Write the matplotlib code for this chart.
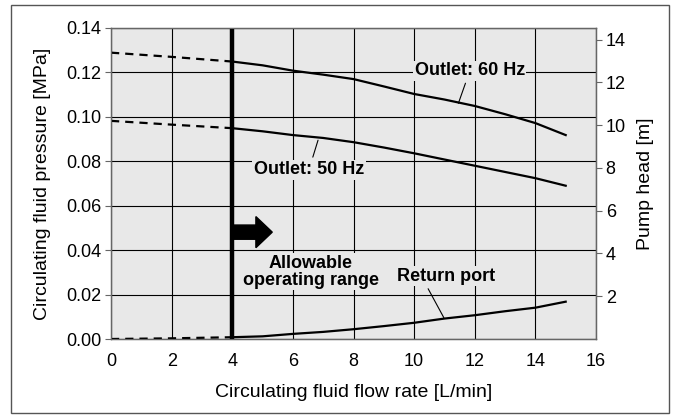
import matplotlib
matplotlib.use("Agg")
import matplotlib.pyplot as plt
from matplotlib.patches import Rectangle, FancyArrow

plt.rcParams['font.family'] = ['Liberation Sans', 'DejaVu Sans']

# Data (flow rate L/min, pressure MPa)
x_dash = [0, 2, 4]
p60_dash = [0.1289, 0.1270, 0.1249]
p50_dash = [0.0982, 0.0965, 0.0949]
ret_dash = [0.0000, 0.0003, 0.0008]

x_solid = [4, 5, 6, 7, 8, 9, 10, 11, 12, 13, 14, 15]
p60 = [0.1249, 0.1232, 0.1208, 0.1190, 0.1170, 0.1137, 0.1103, 0.1078, 0.1049, 0.1012, 0.0972, 0.0918]
p50 = [0.0949, 0.0935, 0.0918, 0.0905, 0.0886, 0.0862, 0.0836, 0.0808, 0.0780, 0.0752, 0.0724, 0.0690]
ret = [0.0008, 0.0012, 0.0023, 0.0032, 0.0044, 0.0058, 0.0073, 0.0092, 0.0107, 0.0125, 0.0141, 0.0168]

xticks = [0, 2, 4, 6, 8, 10, 12, 14, 16]
yticks = [0.00, 0.02, 0.04, 0.06, 0.08, 0.10, 0.12, 0.14]
head_ticks = [2, 4, 6, 8, 10, 12, 14]

fig = plt.figure(figsize=(6.77, 4.15), dpi=100)
fig.patches.append(Rectangle((11/677, 2/415), 658/677, 408/415, transform=fig.transFigure,
                             fill=False, edgecolor='#555555', lw=1.0))
ax = fig.add_axes([111/677, 1 - 339/415, 485/677, 311/415])
ax.set_facecolor('#e8e8e8')
ax.set_xlim(0, 16)
ax.set_ylim(0, 0.14)
ax.set_xticks(xticks)
ax.set_yticks(yticks)
ax.set_yticklabels([f"{v:.2f}" for v in yticks])
ax.grid(True, color='black', lw=0.8)
ax.set_axisbelow(True)
for s in ax.spines.values():
    s.set_color('#666666')
    s.set_linewidth(1.0)
ax.tick_params(axis='y', labelsize=13, direction='out', length=4, color='#666666', pad=3)
ax.tick_params(axis='x', labelsize=13, length=0, pad=10)
ax.set_xlabel('Circulating fluid flow rate [L/min]', fontsize=14, labelpad=10.5)
ax.set_ylabel('Circulating fluid pressure [MPa]', fontsize=14, labelpad=11)

ax2 = ax.twinx()
ax2.set_ylim(0, 0.14 / 0.00963)
ax2.set_yticks(head_ticks)
ax2.tick_params(labelsize=13, direction='out', length=4, color='#666666', pad=3)
ax2.set_ylabel('Pump head [m]', fontsize=14, labelpad=8)
for s in ax2.spines.values():
    s.set_color('#666666')

lw = 1.6
for yd, ys in [(p60_dash, p60), (p50_dash, p50), (ret_dash, ret)]:
    ax.plot(x_dash, yd, color='black', lw=lw, ls=(0, (3.7, 2.7)), zorder=3)
    ax.plot(x_solid, ys, color='black', lw=lw, zorder=3)

ax.axvline(4, color='black', lw=3.2, zorder=4)
ax.add_patch(FancyArrow(4, 0.0481, 1.32, 0, width=0.0064, head_width=0.0140,
                        head_length=0.54, length_includes_head=True,
                        color='black', zorder=5))

bbox = dict(facecolor='#e8e8e8', edgecolor='none', pad=1.0)
ax.text(6.59, 0.0302, 'Allowable\noperating range', ha='center', va='center',
        fontsize=13, fontweight='bold', linespacing=1.0, bbox=bbox, zorder=5)

ax.annotate('Outlet: 60 Hz', xy=(11.46, 0.1061), xytext=(11.84, 0.1208),
            ha='center', va='center', fontsize=13, fontweight='bold', bbox=bbox,
            arrowprops=dict(arrowstyle='-', color='black', lw=0.8, shrinkA=2, shrinkB=0), zorder=5)
ax.annotate('Outlet: 50 Hz', xy=(6.83, 0.0895), xytext=(6.53, 0.0762),
            ha='center', va='center', fontsize=13, fontweight='bold', bbox=bbox,
            arrowprops=dict(arrowstyle='-', color='black', lw=0.8, shrinkA=2, shrinkB=0), zorder=5)
ax.annotate('Return port', xy=(10.98, 0.0096), xytext=(11.04, 0.0282),
            ha='center', va='center', fontsize=13, fontweight='bold', bbox=bbox,
            arrowprops=dict(arrowstyle='-', color='black', lw=0.8, shrinkA=2, shrinkB=0,
                            relpos=(0.3, 0.0)), zorder=5)

fig.savefig('out.png', dpi=100)
